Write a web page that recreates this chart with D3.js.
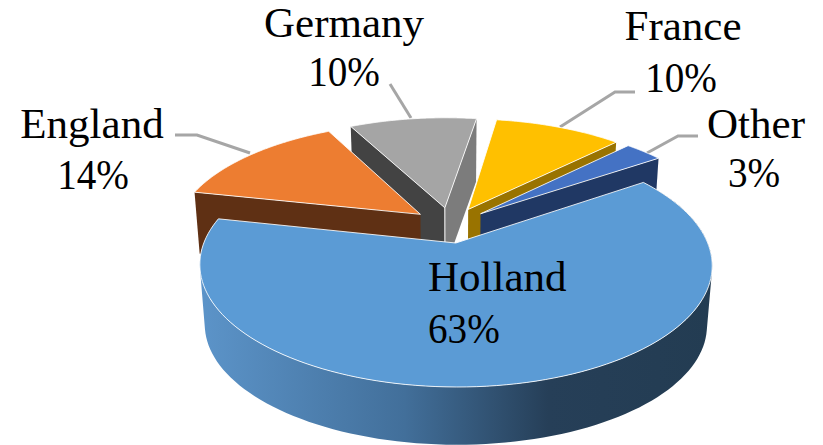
<!DOCTYPE html>
<html>
<head>
<meta charset="utf-8">
<script src="https://cdn.jsdelivr.net/npm/d3@7"></script>
<style>
  html, body { margin: 0; padding: 0; background: #fff; }
  text { font-family: "Liberation Serif", serif; font-size: 43px; fill: #000; }
</style>
</head>
<body>
<div id="chart"></div>
<script>
// chart values
var countries = ["Holland", "England", "Germany", "France", "Other"];
var shares = [63, 14, 10, 10, 3];
var topColors = ["#5b9bd5", "#ed7d31", "#a5a5a5", "#ffc000", "#4472c4"];

var svgWidth = 823;
var svgHeight = 445;

// projection of the tilted pie
var cx = 451, cy = 225;
var radius = 245, radiusY = 111.5;
var perspective = 0.176;
var explode = 0.16;
var depth = 61, depthScale = 0.98;
var hollandNudge = -3;

var svg = d3.select("#chart")
  .append("svg")
  .attr("width", svgWidth)
  .attr("height", svgHeight);

var grad = svg.append("defs").append("linearGradient")
  .attr("id", "hollandSide")
  .attr("gradientUnits", "userSpaceOnUse")
  .attr("x1", 200).attr("x2", 712).attr("y1", 0).attr("y2", 0);
grad.append("stop").attr("offset", "0%").attr("stop-color", "#5c94c9");
grad.append("stop").attr("offset", "40%").attr("stop-color", "#426f9a");
grad.append("stop").attr("offset", "68%").attr("stop-color", "#263f58");
grad.append("stop").attr("offset", "100%").attr("stop-color", "#233c52");

// slices, clockwise from the right edge of Holland
var pie = d3.pie().sort(null)
  .startAngle(55.5 * Math.PI / 180)
  .endAngle((55.5 + 360) * Math.PI / 180);
var arcs = pie(shares);

// plane point (slice offset + polar) to the screen, lower = on the bottom face
function project(arc, r, angle, lower) {
  var mid = (arc.startAngle + arc.endAngle) / 2;
  var u = explode * Math.sin(mid) + r * Math.sin(angle);
  var v = -explode * Math.cos(mid) - r * Math.cos(angle);
  var w = 1 - perspective * v;
  var s = lower ? depthScale : 1;
  var nudge = arc.index === 0 ? hollandNudge : 0;
  return [cx + nudge + radius * u / w * s, cy + radiusY * v / w * s + (lower ? depth : 0)];
}

var line = d3.line();

function rimPoints(arc, lower) {
  return d3.range(0, 121).map(function(i) {
    var a = arc.startAngle + (arc.endAngle - arc.startAngle) * i / 120;
    return project(arc, 1, a, lower);
  });
}

function topPath(arc) {
  return line([project(arc, 0, 0, false)].concat(rimPoints(arc, false))) + "Z";
}

function radialFace(arc, angle) {
  return line([
    project(arc, 0, 0, false),
    project(arc, 1, angle, false),
    project(arc, 1, angle, true),
    project(arc, 0, 0, true)
  ]) + "Z";
}

// the outer wall, one quad per step so the silhouette follows both rims.
// all quads wound the same way or the overlaps cancel out
function rimFace(arc) {
  var up = rimPoints(arc, false), down = rimPoints(arc, true);
  var d = "";
  for (var i = 0; i < up.length - 1; i++) {
    var quad = [up[i], up[i + 1], down[i + 1], down[i]];
    if (d3.polygonArea(quad) < 0) quad.reverse();
    d += line(quad) + "Z";
  }
  return d;
}

var holland = arcs[0], england = arcs[1], germany = arcs[2], france = arcs[3], other = arcs[4];

function drawFace(d, fill) {
  svg.append("path").attr("d", d).attr("fill", fill);
}

function drawTop(arc, i) {
  svg.append("path")
    .attr("d", topPath(arc))
    .attr("fill", topColors[i])
    .attr("stroke", "#fff")
    .attr("stroke-width", 1)
    .attr("stroke-opacity", 0.85)
    .attr("stroke-linejoin", "round");
}

function apexLine(arc) {
  var a = project(arc, 0, 0, false), b = project(arc, 0, 0, true);
  svg.append("line")
    .attr("x1", a[0]).attr("y1", a[1])
    .attr("x2", b[0]).attr("y2", b[1])
    .attr("stroke", "#fff")
    .attr("stroke-width", 1);
}

// leader lines go under the slices
var leaders = [
  [[175, 135], [197, 135], [250, 153]],
  [[390, 84], [411, 118]],
  [[635, 92], [615, 92], [560, 127]],
  [[698, 136], [678, 136], [647, 153]]
];
svg.selectAll(".leader")
  .data(leaders)
  .enter()
  .append("path")
  .attr("class", "leader")
  .attr("d", function(d) { return line(d); })
  .attr("fill", "none")
  .attr("stroke", "#a6a6a6")
  .attr("stroke-width", 3);

// back to front
drawFace(radialFace(germany, germany.endAngle), "#7c7c7c");
drawFace(radialFace(germany, germany.startAngle), "#434343");
apexLine(germany);
drawTop(germany, 2);

drawFace(radialFace(france, france.endAngle), "#997300");
drawTop(france, 3);

drawFace(radialFace(other, other.endAngle), "#203864");
drawTop(other, 4);

drawFace(radialFace(england, england.startAngle), "#5f3014");
drawTop(england, 1);

drawFace(rimFace(holland), "url(#hollandSide)");
drawTop(holland, 0);

// labels: name line and percent line
var namePos = [
  { x: 428, y: 291, anchor: "start" },
  { x: 92, y: 138, anchor: "middle" },
  { x: 344, y: 37, anchor: "middle" },
  { x: 683, y: 40, anchor: "middle" },
  { x: 756, y: 138, anchor: "middle" }
];
var percentPos = [
  { x: 428, y: 343 },
  { x: 93, y: 189 },
  { x: 344, y: 86 },
  { x: 681, y: 92 },
  { x: 754, y: 187 }
];

countries.forEach(function(name, i) {
  var p = namePos[i], q = percentPos[i];
  svg.append("text").attr("x", p.x).attr("y", p.y)
    .attr("text-anchor", p.anchor).text(name);
  var pct = svg.append("text").attr("x", q.x).attr("y", q.y)
    .attr("text-anchor", p.anchor).text(shares[i] + "%");
  // the percent sign is narrower in the original
  pct.attr("textLength", pct.node().getComputedTextLength() * 0.91)
    .attr("lengthAdjust", "spacingAndGlyphs");
});
</script>
</body>
</html>
